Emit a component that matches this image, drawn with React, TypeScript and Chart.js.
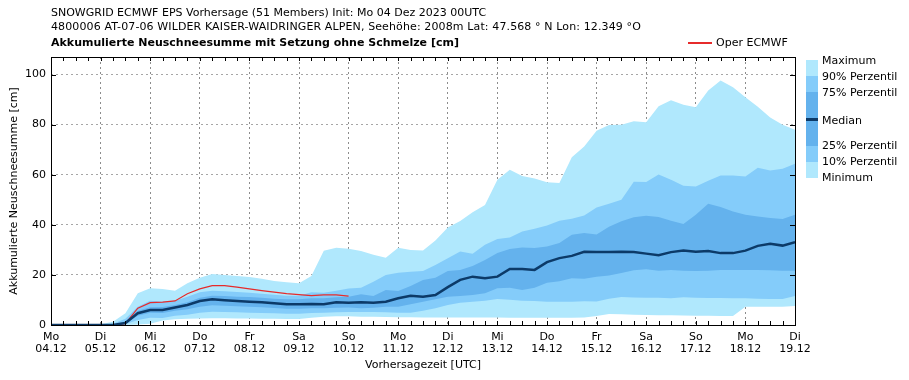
import React, { useEffect, useRef } from "react";
import { Chart, registerables } from "chart.js";

Chart.register(...registerables);

// forecast hours (6-hourly steps from init Mo 04.12.2023 00UTC)
const HOURS = [
  0, 6, 12, 18, 24, 30, 36, 42, 48, 54, 60, 66, 72, 78, 84, 90, 96, 102, 108, 114,
  120, 126, 132, 138, 144, 150, 156, 162, 168, 174, 180, 186, 192, 198, 204, 210,
  216, 222, 228, 234, 240, 246, 252, 258, 264, 270, 276, 282, 288, 294, 300, 306,
  312, 318, 324, 330, 336, 342, 348, 354, 360,
];

const DAY_NAMES = ["Mo", "Di", "Mi", "Do", "Fr", "Sa", "So", "Mo", "Di", "Mi", "Do", "Fr", "Sa", "So", "Mo", "Di"];
const DAY_DATES = [
  "04.12", "05.12", "06.12", "07.12", "08.12", "09.12", "10.12", "11.12",
  "12.12", "13.12", "14.12", "15.12", "16.12", "17.12", "18.12", "19.12",
];

const MAXIMUM = [
  0, 0, 0, 0, 0.3, 1.3, 4.7, 12.7, 14.7, 14.4, 13.7, 16.7, 18.9, 20.4, 20, 19.6, 19.2, 18.5, 17.6, 17.1,
  16.7, 19.6, 29.6, 30.8, 30.4, 29.5, 28, 26.8, 30.8, 29.9, 29.7, 33.7, 38.9, 41.5, 45, 47.9, 58, 62, 59.5, 58.5,
  57, 56.7, 67, 71.3, 77.6, 79.9, 80, 81.3, 80.9, 87.3, 89.7, 87.9, 86.9, 93.6, 97.6, 94.9, 90.9, 87.1, 82.8, 80, 78,
];
const P90 = [
  0, 0, 0, 0, 0, 0.5, 2.5, 7.3, 9.7, 9.3, 9.7, 11.3, 13.1, 13.7, 13.5, 13.2, 12.9, 12.5, 12.1, 11.7,
  11.7, 13.1, 12.9, 13.7, 14.6, 14.9, 17.3, 20, 20.9, 21.3, 21.6, 24, 26.7, 29.3, 28.4, 32, 34.3, 34.9, 37.3, 38.4,
  39.7, 41.6, 42.4, 43.7, 46.9, 48.4, 50, 57.2, 57.1, 60.1, 58, 55.6, 55.3, 57.6, 59.7, 59.7, 59.3, 62.8, 61.7, 62.4, 64.4,
];
const P75 = [
  0, 0, 0, 0, 0, 0, 1.5, 5.7, 7.1, 7.2, 8, 9.1, 10.9, 11.7, 11.6, 11.3, 11.2, 10.9, 10.5, 10.3,
  10.3, 10.7, 10.7, 11.1, 11.3, 12.3, 11.6, 14, 13.6, 15.6, 18, 18.9, 21.6, 22, 23.6, 26, 28.7, 30.3, 30.9, 30.7,
  31.3, 32.7, 36, 36.7, 36.1, 39.2, 41.4, 43, 43.6, 43.1, 41.6, 40.3, 44, 48.4, 47.1, 45.3, 44, 43.3, 42.7, 42.3, 44,
];
const MEDIAN = [
  0, 0, 0, 0, 0, 0, 0.8, 4.7, 6, 6, 7, 8, 9.6, 10.3, 9.9, 9.6, 9.3, 9.1, 8.7, 8.3,
  8.3, 8.4, 8.3, 9.1, 8.9, 9.1, 8.9, 9.3, 10.7, 11.7, 11.3, 12, 15.1, 18, 19.3, 18.7, 19.3, 22.4, 22.4, 22,
  25.1, 26.7, 27.6, 29.2, 29.1, 29.1, 29.2, 29.1, 28.5, 27.9, 29.1, 29.7, 29.2, 29.5, 28.7, 28.7, 29.7, 31.6, 32.4, 31.7, 33.1,
];
const P25 = [
  0, 0, 0, 0, 0, 0, 0.5, 3.7, 4.9, 4.8, 5.7, 6.3, 7.3, 7.9, 7.7, 7.5, 7.3, 7.1, 6.8, 6.5,
  6.5, 6.7, 6.7, 6.9, 7, 6.7, 6.9, 7.3, 7.3, 8.3, 9.3, 10.3, 11.3, 11.6, 12, 12.7, 14.7, 14.9, 14, 14.9,
  16.9, 17.5, 18.7, 18.5, 19.3, 19.8, 20.8, 21.9, 22.3, 21.7, 22, 21.7, 21.6, 21.7, 22, 22, 22, 22, 21.9, 21.7, 21.7,
];
const P10 = [
  0, 0, 0, 0, 0, 0, 0.3, 2, 2.9, 2.8, 3.7, 4.1, 4.9, 5.3, 5.2, 5.1, 4.9, 4.8, 4.7, 4.5,
  4.5, 4.8, 4.9, 5.1, 5.2, 5.2, 5.2, 5.1, 4.9, 4.9, 5.7, 6.7, 8, 8.9, 9.3, 9.7, 10.4, 10.1, 9.7, 9.6,
  9.3, 9.3, 9.3, 9.5, 9.4, 10.5, 11.2, 11, 10.9, 10.9, 10.7, 11.1, 10.9, 10.8, 10.8, 10.7, 10.7, 10.5, 10.4, 10.4, 11.6,
];
const MINIMUM = [
  0, 0, 0, 0, 0, 0, 0, 0.2, 0.5, 1.8, 2.3, 2.5, 2.6, 2.7, 2.7, 2.6, 2.6, 2.5, 2.5, 2.4,
  2.4, 2.9, 3.3, 3.5, 3.5, 3.3, 3.3, 3.2, 3.1, 3.1, 3, 3, 3, 3, 3, 3, 3, 2.9, 2.9, 2.9,
  2.9, 2.9, 2.9, 3, 3.6, 4.4, 4.3, 4.1, 4, 3.9, 3.9, 3.8, 3.7, 3.7, 3.6, 3.6, 7.3, 7.3, 7.3, 7.3, 7.6,
];
// operational run (up to +144h)
const OPER = [
  0, 0, 0, 0, 0, 0, 0.5, 6.7, 8.9, 9.1, 9.6, 12.5, 14.4, 15.7, 15.7, 15.1, 14.4, 13.7, 13.1, 12.5,
  12.1, 11.7, 12, 12, 11.5,
];

const Y_TICKS = [0, 20, 40, 60, 80, 100];

const C_LIGHT = "#b0e8fd";
const C_MID = "#84ccfa";
const C_DARK = "#64b2ed";
const C_MEDIAN = "#0c3a68";
const C_OPER = "#e62b2b";

const FONT = "'DejaVu Sans', sans-serif";

const pts = (arr: number[]) => arr.map((v, i) => ({ x: HOURS[i], y: v }));

const framePlugin = {
  id: "frameTicks",
  afterDraw(chart: any) {
    const { ctx, chartArea } = chart;
    const { left, right, top, bottom } = chartArea;
    const xs = chart.scales.x;
    const ys = chart.scales.y;
    ctx.save();
    ctx.strokeStyle = "#000";
    ctx.lineWidth = 1;
    ctx.beginPath();
    for (const h of HOURS) {
      const x = Math.round(xs.getPixelForValue(h)) + 0.5;
      ctx.moveTo(x, bottom);
      ctx.lineTo(x, bottom - 4);
      ctx.moveTo(x, top);
      ctx.lineTo(x, top + 4);
    }
    for (const v of Y_TICKS) {
      const y = Math.round(ys.getPixelForValue(v)) + 0.5;
      ctx.moveTo(left, y);
      ctx.lineTo(left + 5, y);
      ctx.moveTo(right, y);
      ctx.lineTo(right - 5, y);
    }
    ctx.stroke();
    ctx.strokeRect(Math.round(left) + 0.5, Math.round(top) + 0.5, Math.round(right - left), Math.round(bottom - top));
    ctx.restore();
  },
};

export default function App() {
  const ref = useRef<HTMLCanvasElement | null>(null);

  useEffect(() => {
    if (!ref.current) return;
    Chart.defaults.font.family = FONT;
    Chart.defaults.font.size = 11;
    Chart.defaults.color = "#000";
    const band = (label: string, data: number[], color: string, fill: any, order: number) => ({
      label,
      data: pts(data),
      borderColor: "transparent",
      borderWidth: 0,
      backgroundColor: color,
      pointRadius: 0,
      fill,
      order,
    });
    const chart = new Chart(ref.current, {
      type: "line",
      data: {
        datasets: [
          {
            label: "Median",
            data: pts(MEDIAN),
            borderColor: C_MEDIAN,
            borderWidth: 2.5,
            pointRadius: 0,
            fill: false,
            order: 0,
          },
          {
            label: "Oper ECMWF",
            data: pts(OPER),
            borderColor: C_OPER,
            borderWidth: 1.2,
            pointRadius: 0,
            fill: false,
            order: 0,
          },
          band("75% Perzentil", P75, C_DARK, 3, 1),
          band("25% Perzentil", P25, "transparent", false, 1),
          band("90% Perzentil", P90, C_MID, 5, 2),
          band("10% Perzentil", P10, "transparent", false, 2),
          band("Maximum", MAXIMUM, C_LIGHT, 7, 3),
          band("Minimum", MINIMUM, "transparent", false, 3),
        ] as any,
      },
      options: {
        animation: false,
        responsive: false,
        maintainAspectRatio: false,
        layout: { padding: { top: 57, right: 114, left: 0, bottom: 0 } },
        elements: { line: { tension: 0 } },
        plugins: {
          legend: { display: false },
          tooltip: { enabled: false },
          title: { display: false },
        },
        scales: {
          x: {
            type: "linear",
            min: 0,
            max: 360,
            z: 1,
            afterFit: (s: any) => {
              s.height = 55;
            },
            ticks: {
              stepSize: 24,
              autoSkip: false,
              maxRotation: 0,
              includeBounds: false,
              padding: 6,
              font: { size: 11, lineHeight: 1.1 },
              callback: (v: any) => {
                const i = Math.round(Number(v) / 24);
                return [DAY_NAMES[i], DAY_DATES[i]];
              },
            },
            grid: { color: "rgba(0,0,0,0.45)", lineWidth: 1, drawTicks: false },
            border: { display: false, dash: [2, 3] },
            title: {
              display: true,
              text: "Vorhersagezeit [UTC]",
              font: { size: 11 },
              padding: { top: 0, bottom: 8 },
            },
          },
          y: {
            min: 0,
            max: 107,
            z: 1,
            afterFit: (s: any) => {
              s.width = 51;
            },
            ticks: {
              stepSize: 20,
              includeBounds: false,
              padding: 5,
              font: { size: 11 },
            },
            grid: { color: "rgba(0,0,0,0.35)", lineWidth: 1, drawTicks: false },
            border: { display: false, dash: [2, 3] },
            title: {
              display: true,
              text: "Akkumulierte Neuschneesumme [cm]",
              font: { size: 11 },
              padding: { top: 8, bottom: 0 },
            },
          },
        },
      } as any,
      plugins: [framePlugin],
    });
    return () => chart.destroy();
  }, []);

  const txt: React.CSSProperties = {
    position: "absolute",
    fontFamily: FONT,
    fontSize: 11,
    lineHeight: "13px",
    whiteSpace: "nowrap",
    color: "#000",
  };

  const legendRows: { label: string; y: number }[] = [
    { label: "Maximum", y: 60 },
    { label: "90% Perzentil", y: 76 },
    { label: "75% Perzentil", y: 92 },
    { label: "Median", y: 120 },
    { label: "25% Perzentil", y: 145 },
    { label: "10% Perzentil", y: 161 },
    { label: "Minimum", y: 177 },
  ];

  const barSegs: { top: number; h: number; c: string }[] = [
    { top: 60, h: 16, c: C_LIGHT },
    { top: 76, h: 16, c: C_MID },
    { top: 92, h: 27, c: C_DARK },
    { top: 119, h: 27, c: C_DARK },
    { top: 146, h: 16, c: C_MID },
    { top: 162, h: 16, c: C_LIGHT },
  ];

  return (
    <div style={{ position: "fixed", left: 0, top: 0, width: 909, height: 380, background: "#fff", overflow: "hidden" }}>
      <canvas ref={ref} width={909} height={380} style={{ position: "absolute", left: 0, top: 0, width: 909, height: 380 }} />
      <div style={{ ...txt, left: 51, top: 6 }}>
        SNOWGRID ECMWF EPS Vorhersage (51 Members) Init: Mo 04 Dez 2023 00UTC
      </div>
      <div style={{ ...txt, left: 51, top: 20, letterSpacing: "0.12px" }}>
        4800006 AT-07-06 WILDER KAISER-WAIDRINGER ALPEN, Seehöhe: 2008m Lat: 47.568 ° N Lon: 12.349 °O
      </div>
      <div style={{ ...txt, left: 51, top: 36, fontWeight: "bold" }}>
        Akkumulierte Neuschneesumme mit Setzung ohne Schmelze [cm]
      </div>
      <div style={{ position: "absolute", left: 688, top: 42, width: 24, height: 1.5, background: C_OPER }} />
      <div style={{ ...txt, left: 716, top: 36 }}>Oper ECMWF</div>
      {barSegs.map((s, i) => (
        <div key={i} style={{ position: "absolute", left: 806, top: s.top, width: 12, height: s.h, background: s.c }} />
      ))}
      <div style={{ position: "absolute", left: 806, top: 118, width: 12, height: 2.5, background: C_MEDIAN }} />
      {legendRows.map((r) => (
        <div key={r.label} style={{ ...txt, left: 822, top: r.y - 6.5 }}>
          {r.label}
        </div>
      ))}
    </div>
  );
}
